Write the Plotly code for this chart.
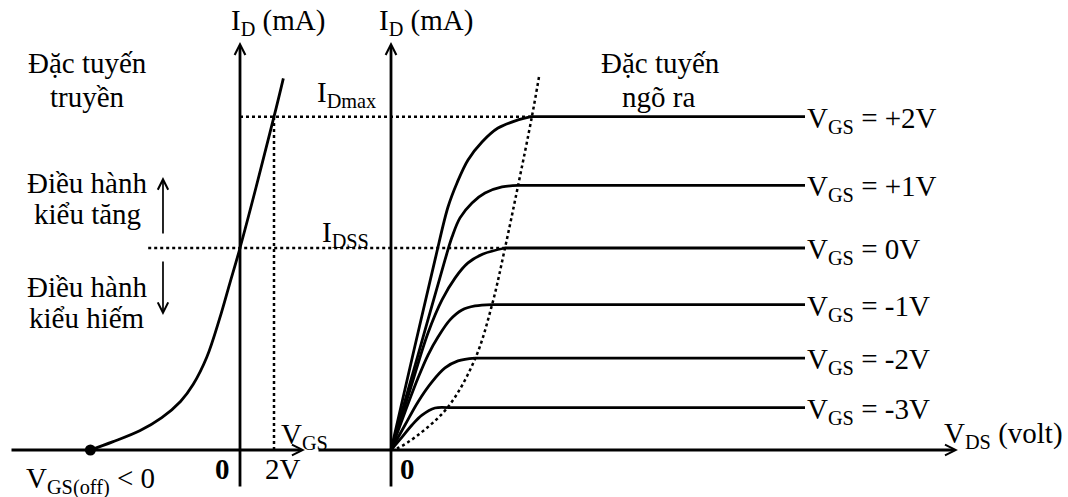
import plotly.graph_objects as go

# ---------------- data ----------------
# transfer characteristic  I_D = f(V_GS)
vgs_transfer = [-8.8, -7.5, -5.9, -4.6, -3.5, -2.75, -1.95, -1.2, -0.6, 0.0, 2.0, 2.55]
id_transfer = [0.0, 0.4, 0.95, 1.6, 2.4, 3.25, 4.6, 6.5, 8.25, 10.0, 16.5, 18.4]
vgs_off = -8.8
idss = 10.0
idmax = 16.5
vgs_max = 2.0

# output characteristics  I_D = f(V_DS) for each V_GS
vgs_labels = ["+2V", "+1V", "0V", "-1V", "-2V", "-3V"]
id_sat = [16.5, 13.1, 10.0, 7.2, 4.55, 2.1]
vds_knee = [5.6, 5.08, 4.56, 4.04, 3.36, 2.28]
vds_end = 16.56

vds_p2 = [0, 0.92, 1.76, 2.28, 2.64, 3.08, 3.64, 4.28, 5.08, 5.6]
id_p2 = [0, 4.95, 9.41, 12.03, 13.22, 14.36, 15.25, 15.94, 16.34, 16.5]
vds_p1 = [0, 1.08, 2.16, 2.44, 2.76, 3.24, 3.76, 4.44, 5.08]
id_p1 = [0, 4.7, 9.41, 10.54, 11.49, 12.23, 12.72, 13.02, 13.1]
vds_0 = [0, 0.76, 1.48, 2.04, 2.56, 3.08, 3.68, 4.56]
id_0 = [0, 2.97, 5.79, 7.43, 8.51, 9.26, 9.70, 10.0]
vds_m1 = [0, 0.56, 1.08, 1.48, 1.88, 2.36, 2.84, 3.36, 4.04]
id_m1 = [0, 1.88, 3.56, 4.70, 5.59, 6.44, 6.93, 7.13, 7.2]
vds_m2 = [0, 0.56, 1.08, 1.64, 2.16, 2.68, 3.36]
id_m2 = [0, 1.24, 2.38, 3.37, 4.06, 4.41, 4.55]
vds_m3 = [0, 0.44, 0.84, 1.24, 1.76, 2.28]
id_m3 = [0, 0.64, 1.24, 1.73, 2.08, 2.1]

# pinch-off locus (dotted)
vds_locus = [0, 0.28, 1.08, 2.28, 3.36, 4.04, 4.56, 5.08, 5.64, 5.92]
id_locus = [0, 0.10, 0.74, 2.13, 4.50, 7.18, 10.0, 13.07, 16.53, 18.47]

# ---------------- layout constants ----------------
XR1 = [-14.118, 48.706]   # V_GS axis range (left diagram)
XR2 = [-15.64, 27.08]     # V_DS axis range (right diagram)
YR = [-2.327, 22.277]     # I_D range
W, H = 1068, 497
FONT = "Liberation Serif"
FS = 29
LW = 2.8


def vgs_to_vds(v):
    return XR2[0] + (v - XR1[0]) * (XR2[1] - XR2[0]) / (XR1[1] - XR1[0])


def pp(px, py):
    return px / W, 1 - py / H


fig = go.Figure()
solid = dict(color="black", width=LW)
dotted = dict(color="black", width=2.5, dash="dot")

# transfer curve
fig.add_trace(go.Scatter(x=vgs_transfer, y=id_transfer, mode="lines",
                         line=dict(color="black", width=LW, shape="spline"),
                         xaxis="x", yaxis="y"))
fig.add_trace(go.Scatter(x=[vgs_off], y=[0], mode="markers",
                         marker=dict(color="black", size=11), xaxis="x", yaxis="y"))
fig.add_trace(go.Scatter(x=[vgs_max, vgs_max], y=[0, idmax], mode="lines",
                         line=dotted, xaxis="x", yaxis="y"))
# guide lines I_Dmax and I_DSS
fig.add_trace(go.Scatter(x=[vgs_to_vds(0), vds_knee[0]], y=[idmax, idmax], mode="lines",
                         line=dotted, xaxis="x2", yaxis="y"))
fig.add_trace(go.Scatter(x=[vgs_to_vds(-5.4), vds_knee[2]], y=[idss, idss], mode="lines",
                         line=dotted, xaxis="x2", yaxis="y"))

# output curves
curves = [(vds_p2, id_p2), (vds_p1, id_p1), (vds_0, id_0),
          (vds_m1, id_m1), (vds_m2, id_m2), (vds_m3, id_m3)]
for (vx, iy), k, s in zip(curves, vds_knee, id_sat):
    fig.add_trace(go.Scatter(x=vx, y=iy, mode="lines",
                             line=dict(color="black", width=LW, shape="spline"),
                             xaxis="x2", yaxis="y"))
    fig.add_trace(go.Scatter(x=[k, vds_end], y=[s, s], mode="lines", line=solid,
                             xaxis="x2", yaxis="y"))

fig.add_trace(go.Scatter(x=vds_locus, y=id_locus, mode="lines",
                         line=dict(color="black", width=2.5, dash="dot", shape="spline"),
                         xaxis="x2", yaxis="y"))

ann = []


def arrow(xref, x0, y0, x1, y1, width=LW, size=0.75, head=5):
    ann.append(dict(x=x1, y=y1, ax=x0, ay=y0, xref=xref, yref="y", axref=xref, ayref="y",
                    text="", showarrow=True, arrowhead=head, arrowsize=size,
                    arrowwidth=width, arrowcolor="black", standoff=0))


# axes
arrow("x", -13.53, 0, 3.82, 0)
arrow("x", 0, -1.88, 0, 20.2)
arrow("x2", -2.96, 0, 22.68, 0)
arrow("x2", 0, -1.88, 0, 20.2)
# operation mode arrows
arrow("x", -4.53, 10.64, -4.53, 13.51, width=1.7, size=1.2)
arrow("x", -4.53, 9.41, -4.53, 6.68, width=1.7, size=1.2)


def text(px, py, s, size=FS, bold=False, xanchor="center"):
    x, y = pp(px, py)
    ann.append(dict(x=x, y=y, xref="paper", yref="paper", text=("<b>%s</b>" % s) if bold else s,
                    showarrow=False, xanchor=xanchor, yanchor="middle",
                    font=dict(family=FONT, size=size, color="black")))


text(278, 22, "I<sub>D</sub> (mA)")
text(426, 22, "I<sub>D</sub> (mA)")
text(87, 63, "Đặc tuyến")
text(87, 97, "truyền")
text(87, 183, "Điều hành")
text(87, 214, "kiểu tăng")
text(87, 287, "Điều hành")
text(87, 318, "kiểu hiếm")
text(90, 480, "V<sub>GS(off)</sub> < 0")
text(222, 469, "0", bold=True)
text(283, 469, "2V")
text(304, 436, "V<sub>GS</sub>")
text(346, 94, "I<sub>Dmax</sub>")
text(345, 234, "I<sub>DSS</sub>")
text(660, 63, "Đặc tuyến")
text(658, 97, "ngõ ra")
text(407, 469, "0", bold=True)
text(1003, 435, "V<sub>DS</sub> (volt)")

for lab, s in zip(vgs_labels, id_sat):
    ann.append(dict(x=vds_end, y=s, xref="x2", yref="y", text="V<sub>GS</sub> = " + lab,
                    showarrow=False, xanchor="left", yanchor="middle", xshift=0, yshift=-3,
                    font=dict(family=FONT, size=FS, color="black")))

fig.update_layout(
    width=W, height=H, margin=dict(l=0, r=0, t=0, b=0),
    paper_bgcolor="white", plot_bgcolor="white", showlegend=False,
    xaxis=dict(range=XR1, visible=False, domain=[0, 1], fixedrange=True),
    xaxis2=dict(range=XR2, visible=False, overlaying="x", anchor="y", fixedrange=True),
    yaxis=dict(range=YR, visible=False, domain=[0, 1], fixedrange=True),
    annotations=ann,
)

fig.write_html("out.html", config={"displayModeBar": False},
               post_script="document.body.style.margin='0';document.body.style.overflow='hidden';")
